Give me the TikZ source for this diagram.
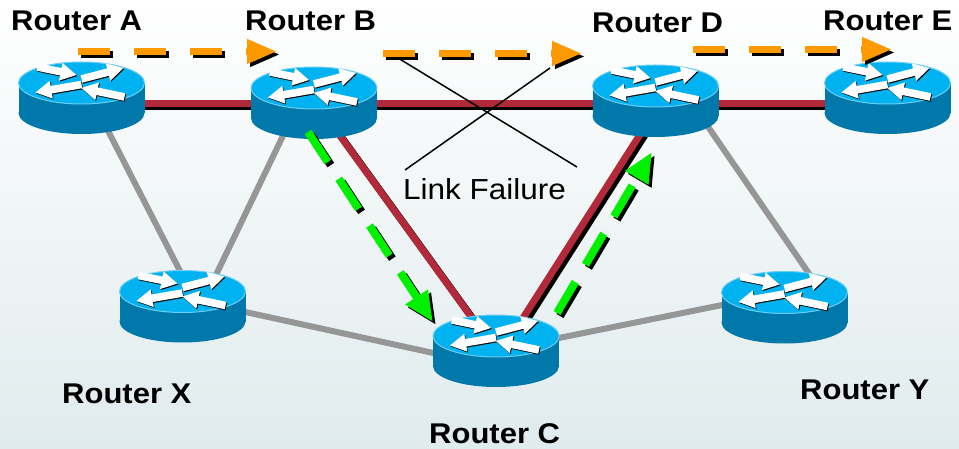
\documentclass[tikz,border=0pt]{standalone}
\usepackage{fontspec}
\setmainfont{Liberation Sans}
\usetikzlibrary{arrows.meta,calc}
\definecolor{rtop}{RGB}{0,178,240}
\definecolor{rside}{RGB}{0,120,170}
\definecolor{rrim}{RGB}{110,205,245}
\definecolor{linkred}{RGB}{178,42,58}
\definecolor{linkgray}{RGB}{150,150,150}
\definecolor{pathorange}{RGB}{255,153,0}
\definecolor{pathgreen}{RGB}{0,240,0}
\definecolor{bgbottom}{RGB}{224,235,237}
\newcommand\rlab[1]{\scalebox{1}[0.92]{\fontsize{31}{31}\selectfont\bfseries #1}}
% filled arrow polygon along +x of length #1
\newcommand\rarrowshape[1]{(0,-3.8) -- (#1-16,-3.8) -- (#1-16,-9) -- (#1,0) -- (#1-16,9) -- (#1-16,3.8) -- (0,3.8) -- cycle}
\tikzset{
  pics/router/.style={code={
    \fill[rside] (-63,0) rectangle (63,30);
    \fill[rside] (0,30) ellipse[x radius=63,y radius=21];
    \filldraw[fill=rtop,draw=rrim,line width=1pt] (0,0) ellipse[x radius=63,y radius=21];
    \foreach \ax/\ay/\bx/\by in {-44/-16/-5/-8, 0/-4/42/-15, 0/1.5/-46/9.5, 43/14/0/5}{
      \pgfmathsetmacro\ang{atan2(\ay-\by,\bx-\ax)}
      \pgfmathsetmacro\len{veclen(\bx-\ax,\by-\ay)}
      \fill[black,shift={(\ax+0.8,\ay+1)},rotate=\ang] \rarrowshape{\len};
      \fill[white,shift={(\ax,\ay)},rotate=\ang] \rarrowshape{\len};
    }
  }},
  graylink/.style={line width=6pt,linkgray},
  redlink/.style={line width=7pt,linkred},
  redshadow/.style={line width=7pt,black,transform canvas={shift={(3pt,-3.5pt)}}},
  orangepath/.style={line width=7pt,dash pattern=on 32pt off 24pt,-{Triangle[length=30pt,width=23pt]}},
  greenpath/.style={line width=8pt,dash pattern=on 36pt off 20pt,-{Triangle[length=30pt,width=25pt]}},
  pshadow/.style={black,transform canvas={shift={(3pt,-3pt)}}},
  label/.style={anchor=base west,inner sep=0pt},
}
\begin{document}
\begin{tikzpicture}[x=1pt,y=-1pt]
\fill[top color=white,bottom color=bgbottom] (0,0) rectangle (959,449);
\useasboundingbox (0,0) rectangle (959,449);
% router positions (top ellipse centres)
\coordinate (A) at (81.5,83);
\coordinate (B) at (314,88);
\coordinate (D) at (655.5,86);
\coordinate (E) at (887.5,83);
\coordinate (X) at (182.5,291.5);
\coordinate (Y) at (784.5,292.5);
\coordinate (C) at (496,336);
% gray links
\draw[graylink] ($(A)+(2,0)$) -- ($(X)+(8,0)$);
\draw[graylink] ($(B)+(-8,0)$) -- ($(X)+(25.5,0)$);
\draw[graylink] ($(X)+(33,14)$) -- ($(C)+(-43,21.3)$);
\draw[graylink] ($(C)+(43,6)$) -- ($(Y)+(-42.5,8.5)$);
\draw[graylink] ($(D)+(24.5,0)$) -- ($(Y)+(37.5,0)$);
% red links
\foreach \s in {redshadow,redlink}{
  \draw[\s] ($(A)+(0,20.5)$) -- ($(B)+(0,15.5)$);
  \draw[\s] ($(B)+(0,15.5)$) -- ($(D)+(0,17.5)$);
  \draw[\s] ($(D)+(0,17.5)$) -- ($(E)+(0,20.5)$);
  \draw[\s] ($(B)+(-8.5,0)$) -- ($(C)+(-11,0)$);
  \draw[\s] ($(C)+(15.6,0)$) -- ($(D)+(15.5,0)$);
}
% routers
\foreach \r in {A,B,D,E,X,Y,C}{ \pic at (\r) {router}; }
% labels
\node[label] (lA) at (11,31) {\rlab{Router A}};
\node[label] (lB) at (245,31) {\rlab{Router B}};
\node[label] (lD) at (592,33) {\rlab{Router D}};
\node[label] (lE) at (823,31) {\rlab{Router E}};
\node[label] (lX) at (62,403) {\rlab{Router X}};
\node[label] (lY) at (800,399) {\rlab{Router Y}};
\node[label] (lC) at (429,443) {\rlab{Router C}};
% orange path
\coordinate (o1) at (78,51.5);  \coordinate (o2) at (277,51.5);
\coordinate (o3) at (383,53.5); \coordinate (o4) at (582,53.5);
\coordinate (o5) at (693,49.5); \coordinate (o6) at (892,49.5);
\foreach \c in {pshadow,pathorange}{
  \draw[orangepath,\c] (o1) -- (o2);
  \draw[orangepath,\c] (o3) -- (o4);
  \draw[orangepath,\c] (o5) -- (o6);
}
% green path
\coordinate (g1) at (308,132); \coordinate (g2) at (433,322);
\coordinate (g3) at (557,313); \coordinate (g4) at (652,152);
\foreach \c in {pshadow,pathgreen}{
  \draw[greenpath,\c] (g1) -- (g2);
  \draw[greenpath,\c] (g3) -- (g4);
}
% link failure
\coordinate (f1) at (398,58);  \coordinate (f2) at (577,167);
\coordinate (f3) at (405,170); \coordinate (f4) at (550,68);
\draw[line width=1.5pt] (f1) -- (f2);
\draw[line width=1.5pt] (f3) -- (f4);
\node[label] (lf) at (403,200) {\scalebox{1}[0.92]{\fontsize{31.5}{31.5}\selectfont Link Failure}};
\end{tikzpicture}
\end{document}
